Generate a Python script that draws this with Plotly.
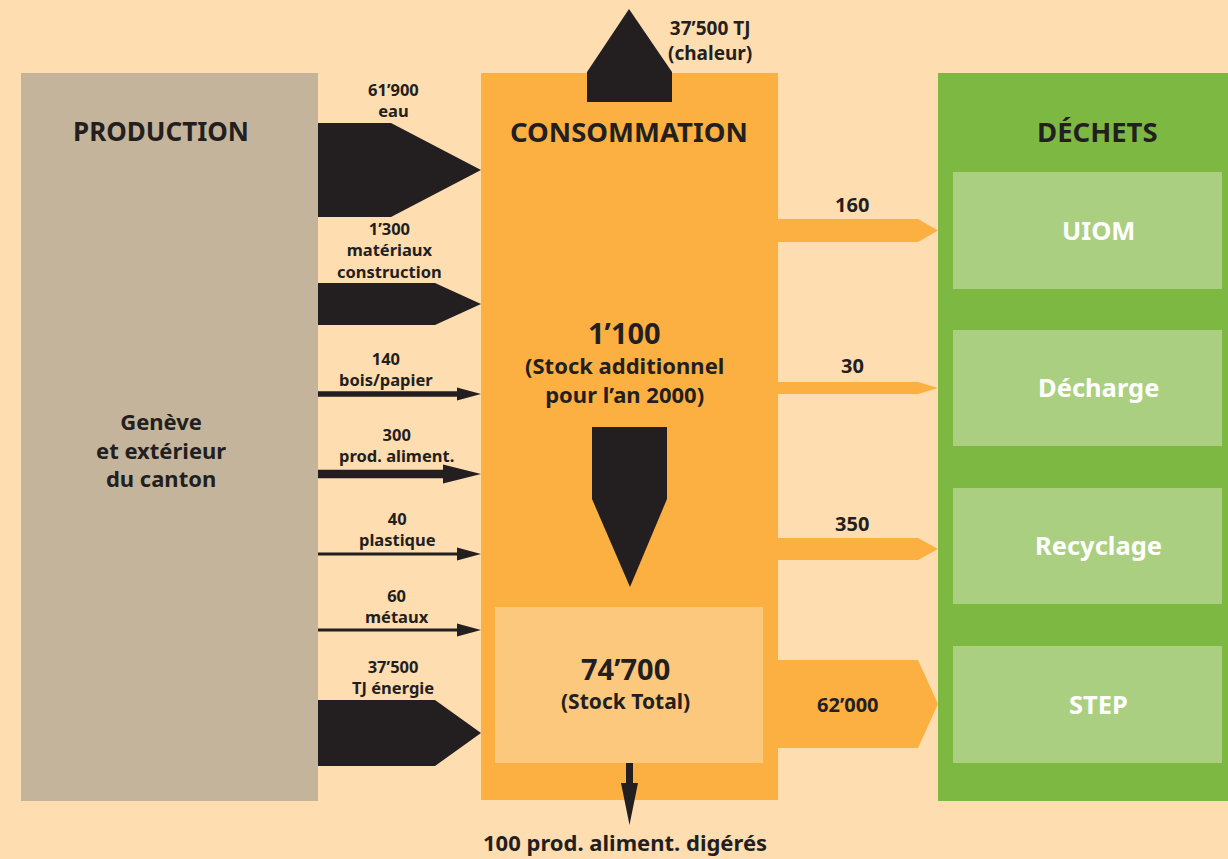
import plotly.graph_objects as go

# ---------------- data ----------------
inflow_values = ["61’900", "1’300", "140", "300", "40", "60", "37’500"]
inflow_labels = [["eau"], ["matériaux", "construction"], ["bois/papier"], ["prod. aliment."],
                 ["plastique"], ["métaux"], ["TJ énergie"]]
outflow_values = ["160", "30", "350", "62’000"]
waste_targets = ["UIOM", "Décharge", "Recyclage", "STEP"]
heat_label = ["37’500 TJ", "(chaleur)"]
stock_add = ["1’100", "(Stock additionnel", "pour l’an 2000)"]
stock_total = ["74’700", "(Stock Total)"]
digested = "100 prod. aliment. digérés"
section_titles = ["PRODUCTION", "CONSOMMATION", "DÉCHETS"]
production_text = ["Genève", "et extérieur", "du canton"]

# ---------------- styles / geometry ----------------
BG = "#FEDDB0"
PROD = "#C4B49B"
ORANGE = "#FBB041"
STOCK = "#FCC87E"
GREEN = "#7DB843"
LGREEN = "#ABCF80"
DARK = "#231F20"
FONT = "Noto Sans"

W, H = 1228, 859
fig = go.Figure()


def poly(xs, ys, color):
    fig.add_trace(go.Scatter(x=list(xs) + [xs[0]], y=list(ys) + [ys[0]], mode="lines",
                             fill="toself", fillcolor=color, line=dict(width=0, color=color),
                             hoverinfo="skip", showlegend=False))


def rect(x0, y0, x1, y1, color):
    poly([x0, x1, x1, x0], [y0, y0, y1, y1], color)


def text(x, y, s, size, color=DARK, anchor="center"):
    fig.add_annotation(x=x, y=y, text="<b>%s</b>" % s, showarrow=False, xanchor=anchor,
                       yanchor="middle", font=dict(family=FONT, size=size, color=color))


# main blocks
rect(21, 73, 318, 801, PROD)
rect(481, 73, 778, 800, ORANGE)
rect(938, 73, 1228, 801, GREEN)
rect(495, 607, 763, 763, STOCK)

waste_boxes = [(172, 289), (330, 446), (488, 604), (646, 763)]
for (y0, y1), name in zip(waste_boxes, waste_targets):
    rect(953, y0, 1222, y1, LGREEN)
    text(1098, (y0 + y1) / 2 - 1, name, 25.5, "white")

# heat arrow on top
poly([587, 587, 629, 672, 672], [102, 72, 9, 72, 102], DARK)

# inflow arrows: (kind, y_center, half_height, shoulder_x, shaft_half, head_half, label_y_center)
x0, xt = 318, 481
inflow_geom = [
    ("block", 170, 47, 391, None, None, 100),
    ("block", 304, 21, 435, None, None, 250),
    ("line", 394, None, 457, 2.8, 6.5, 369),
    ("line", 474, None, 443, 4.3, 9.5, 445),
    ("line", 554, None, 457, 1.6, 6.5, 529),
    ("line", 630, None, 457, 1.6, 6.5, 606),
    ("block", 733, 33, 435, None, None, 677),
]
label_x = [393, 389, 386, 396, 397, 397, 393]
for (kind, yc, hh, sx, sh, hd, ly), val, lab, lx in zip(inflow_geom, inflow_values, inflow_labels, label_x):
    if kind == "block":
        poly([x0, sx, xt, sx, x0], [yc - hh, yc - hh, yc, yc + hh, yc + hh], DARK)
    else:
        poly([x0, sx, sx, xt, sx, sx, x0],
             [yc - sh, yc - sh, yc - hd, yc, yc + hd, yc + sh, yc + sh], DARK)
    text(lx, ly, "<br>".join([val] + lab), 16.5)

# outflow arrows (orange)
out_geom = [(219, 242), (382, 394), (538, 560), (660, 748)]
out_label_y = [204, 365, 523, 704]
out_label_x = [852, 852, 852, 848]
for (y0, y1), val, ly, lx in zip(out_geom, outflow_values, out_label_y, out_label_x):
    yc = (y0 + y1) / 2
    poly([763, 918, 938, 918, 763], [y0, y0, yc, y1, y1], ORANGE)
    text(lx, ly, val, 20)

# stock addition arrow (down)
poly([592, 667, 667, 630, 592], [427, 427, 499, 587, 499], DARK)

# digested arrow (down, bottom)
poly([626, 633, 633, 638, 629.5, 621, 626], [763, 763, 783, 783, 825, 783, 783], DARK)

# texts
text(161, 131, section_titles[0], 26)
text(629, 131, section_titles[1], 27.5)
text(1097, 131, section_titles[2], 27.5)
text(161, 449, "<br>".join(production_text), 22)
text(624, 332, stock_add[0], 29)
text(624, 379.5, "<br>".join(stock_add[1:]), 22)
text(625, 668, stock_total[0], 29)
text(625, 701, stock_total[1], 21)
text(710, 40, "<br>".join(heat_label), 19)
text(625, 842, digested, 22)

fig.update_layout(
    width=W, height=H, margin=dict(l=0, r=0, t=0, b=0),
    paper_bgcolor=BG, plot_bgcolor=BG,
    xaxis=dict(range=[0, W], visible=False, fixedrange=True),
    yaxis=dict(range=[H, 0], visible=False, fixedrange=True),
    showlegend=False,
)
fig.write_html("out.html", config={"displayModeBar": False},
               post_script="document.body.style.margin='0';")
